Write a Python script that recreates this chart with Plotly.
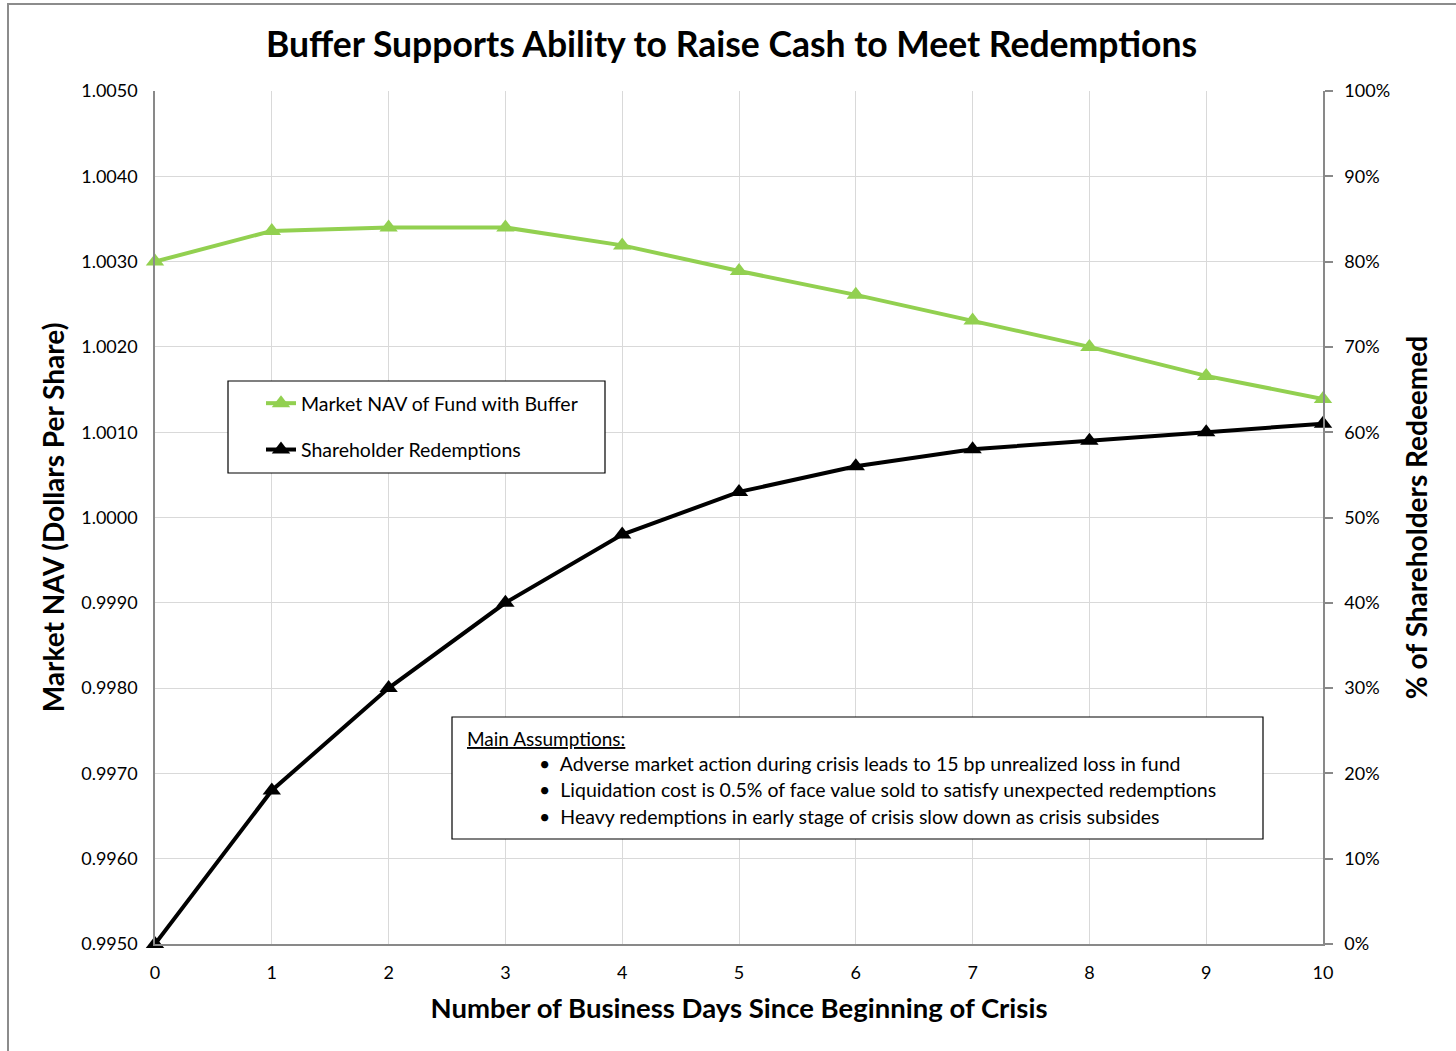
import plotly.graph_objects as go

days = [0, 1, 2, 3, 4, 5, 6, 7, 8, 9, 10]
nav_with_buffer = [1.0030, 1.00336, 1.00340, 1.00340, 1.00319, 1.00289, 1.00261, 1.00231, 1.00200, 1.00166, 1.00139]
redemptions_pct = [0.00, 0.18, 0.30, 0.40, 0.48, 0.53, 0.56, 0.58, 0.59, 0.60, 0.61]

left_ticks = [0.9950, 0.9960, 0.9970, 0.9980, 0.9990, 1.0000, 1.0010, 1.0020, 1.0030, 1.0040, 1.0050]
right_ticks = [0, 0.1, 0.2, 0.3, 0.4, 0.5, 0.6, 0.7, 0.8, 0.9, 1.0]

title_text = "Buffer Supports Ability to Raise Cash to Meet Redemptions"
x_title = "Number of Business Days Since Beginning of Crisis"
y_title = "Market NAV (Dollars Per Share)"
y2_title = "% of Shareholders Redeemed"
series_names = ["Market NAV of Fund with Buffer", "Shareholder Redemptions"]
assumption_head = "Main Assumptions:"
assumptions = [
    "Adverse market action during crisis leads to 15 bp unrealized loss in fund",
    "Liquidation cost is 0.5% of face value sold to satisfy unexpected redemptions",
    "Heavy redemptions in early stage of crisis slow down as crisis subsides",
]

FONT = "Lato, 'Open Sans', sans-serif"
GREEN = "#92D050"
GRID = "#D9D9D9"
AXIS = "#898989"

fig = go.Figure()
fig.add_trace(go.Scatter(
    x=days, y=nav_with_buffer, name=series_names[0], mode="lines+markers",
    line=dict(color=GREEN, width=4), marker=dict(symbol="triangle-up", size=16, color=GREEN),
    cliponaxis=False, legendgroup="a", yaxis="y"))
fig.add_trace(go.Scatter(
    x=days, y=redemptions_pct, name=series_names[1], mode="lines+markers",
    line=dict(color="black", width=4), marker=dict(symbol="triangle-up", size=16, color="black"),
    cliponaxis=False, legendgroup="b", yaxis="y2"))

W, H = 1456, 1051
L, R, T, B = 155, 133, 91, 107
pw, ph = W - L - R, H - T - B

def px_x(p):
    return (p - L) / pw

def px_y(p):
    return (H - B - p) / ph

shapes = [
    # outer chart border
    dict(type="rect", xref="paper", yref="paper", x0=px_x(8), x1=px_x(1470), y0=px_y(1070), y1=px_y(4),
         line=dict(color="#8C8C8C", width=2), layer="below"),
    # legend box
    dict(type="rect", xref="paper", yref="paper", x0=px_x(228), x1=px_x(605), y0=px_y(473), y1=px_y(381),
         line=dict(color="black", width=1.2), fillcolor="white", layer="above"),
    # assumptions box
    dict(type="rect", xref="paper", yref="paper", x0=px_x(452), x1=px_x(1263), y0=px_y(839), y1=px_y(717),
         line=dict(color="black", width=1.2), fillcolor="white", layer="above"),
]

annotations = [
    dict(text="<u>" + assumption_head + "</u>", xref="paper", yref="paper", x=px_x(465), y=px_y(738),
         xanchor="left", yanchor="middle", showarrow=False, font=dict(family=FONT, size=19, color="black")),
]
for i, a in enumerate(assumptions):
    annotations.append(dict(text="\u2022  " + a, xref="paper", yref="paper", x=px_x(537), y=px_y(763 + i * 26.5),
                            xanchor="left", yanchor="middle", showarrow=False,
                            font=dict(family=FONT, size=19.5, color="black")))

fig.update_layout(
    width=W, height=H,
    margin=dict(l=L, r=R, t=T, b=B),
    paper_bgcolor="white", plot_bgcolor="white",
    font=dict(family=FONT, size=18, color="black"),
    title=dict(text="<b>" + title_text + "</b>", xref="container", x=731.5 / W, xanchor="center",
               y=1 - 45 / H, yanchor="middle",
               font=dict(family=FONT, size=35.5, color="black")),
    xaxis=dict(range=[0, 10], tickvals=days, ticktext=[str(d) for d in days], showgrid=True, gridcolor=GRID,
               gridwidth=1, showline=True, linecolor=AXIS, linewidth=1.5, zeroline=False, ticks="",
               tickfont=dict(size=18), ticklabelstandoff=12,
               title=dict(text="<b>" + x_title + "</b>", font=dict(size=27.5), standoff=16)),
    yaxis=dict(range=[0.9950, 1.0050], tickvals=left_ticks, ticktext=[f"{v:.4f}" for v in left_ticks],
               showgrid=True, gridcolor=GRID, gridwidth=1, showline=True, linecolor=AXIS, linewidth=1.5,
               zeroline=False, ticks="", tickfont=dict(size=18), ticklabelstandoff=12,
               title=dict(text="<b>" + y_title + "</b>", font=dict(size=28), standoff=8)),
    yaxis2=dict(range=[0, 1], overlaying="y", side="right", tickvals=right_ticks,
                ticktext=[f"{int(round(v * 100))}%" for v in right_ticks], showgrid=False, showline=True,
                linecolor=AXIS, linewidth=1.5, zeroline=False, ticks="outside", ticklen=8, tickcolor=AXIS,
                tickwidth=1.5, tickfont=dict(size=18), ticklabelstandoff=8,
                title=dict(text="<b>" + y2_title + "</b>", font=dict(size=28), standoff=18)),
    showlegend=True,
    legend=dict(x=px_x(261), y=px_y(384), xanchor="left", yanchor="top", bgcolor="rgba(0,0,0,0)",
                borderwidth=0, font=dict(family=FONT, size=19.5, color="black"), traceorder="grouped",
                tracegroupgap=18, itemwidth=30),
    shapes=shapes,
    annotations=annotations,
)

fig.write_html("out.html")
